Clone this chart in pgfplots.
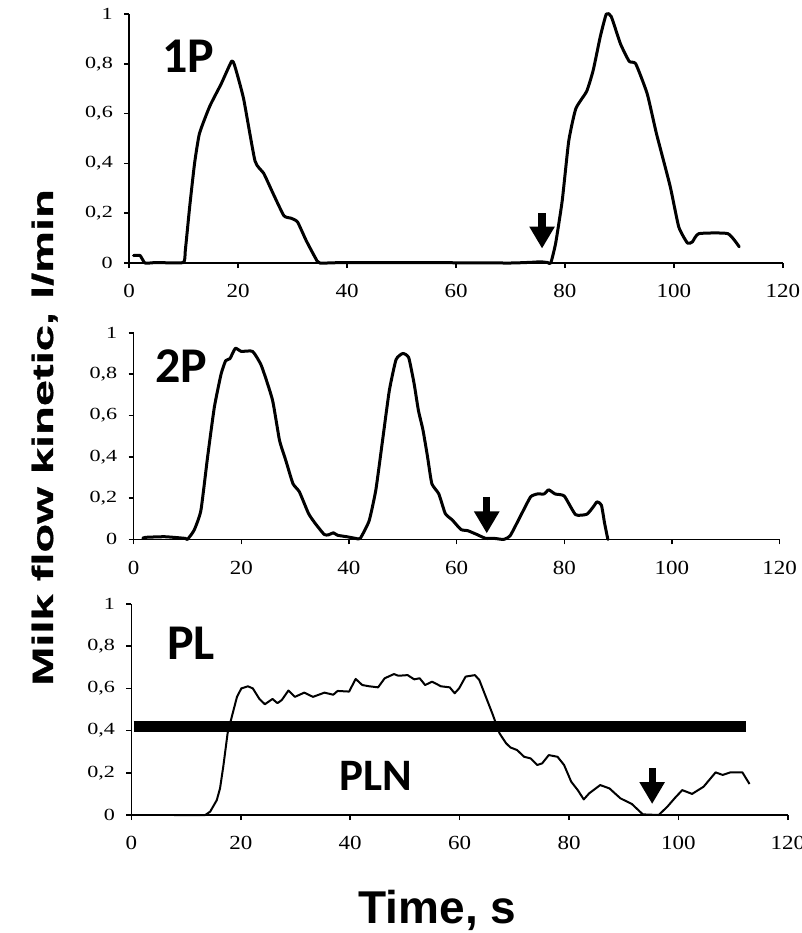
\documentclass[border=0pt]{standalone}
\usepackage{fontspec}
\usepackage{pgfplots}
\pgfplotsset{compat=1.18}
\usetikzlibrary{arrows.meta}
\setmainfont{Liberation Serif}
\newfontfamily\ytickfont[FakeStretch=1.3]{Liberation Serif}
\newfontfamily\xtickfont[FakeStretch=1.15]{Liberation Serif}
\newfontfamily\tagfont{Carlito}
\newfontfamily\ylabfont[FakeStretch=1.6, BoldFeatures={FakeBold=1}]{Liberation Sans}
\newfontfamily\xlabfont{Liberation Sans}

\pgfplotsset{
  panel/.style={
    scale only axis, anchor=south west,
    xmin=0, xmax=120, ymin=0, ymax=1,
    axis x line=bottom, axis y line=left,
    axis line style={-, line width=0.75pt, black},
    tick align=outside, major tick length=2.5pt,
    tick style={line width=0.75pt, black},
    xtick={0,20,40,60,80,100,120},
    xticklabels={0,20,40,60,80,100,120},
    ytick={0,0.2,0.4,0.6,0.8,1},
    yticklabels={0,{0,2},{0,4},{0,6},{0,8},1},
    xticklabel style={font=\xtickfont\fontsize{10}{10}\selectfont, inner sep=0pt, anchor=north},
    yticklabel style={font=\ytickfont\fontsize{8.5}{9}\selectfont, inner sep=0pt, anchor=east},
    xticklabel shift=8pt, yticklabel shift=5.5pt,
    clip=false,
  },
  curve/.style={black, line width=1.5pt, line join=round, line cap=round},
}
\newcommand{\arr}[3]{\draw[line width=3.6pt, -{Triangle[width=12pt,length=11pt]}] (axis cs:#1,#2) -- (axis cs:#1,#3);}

\begin{document}
\begin{tikzpicture}
\useasboundingbox (0,0) rectangle (401pt,-466.5pt);

% Panel 1P
\begin{axis}[panel, at={(64.6pt,-131.5pt)}, width=326.8pt, height=124.5pt]
\addplot[curve, smooth, tension=0.3] coordinates {
(0.8,0.03) (2.0,0.03) (2.9,0) (5,0.002) (9.9,0.002) (10.3,0.05) (11.1,0.225) (12.0,0.4)
(12.9,0.52) (14.8,0.63) (16.9,0.72) (18.8,0.81) (19.4,0.79) (21,0.66) (23.1,0.41)
(24.7,0.36) (26.4,0.28) (28.4,0.19) (29.7,0.18) (30.9,0.165) (32.5,0.09) (34.2,0.02)
(35,0) (40,0.002) (60,0.001) (70,0) (74,0.003) (75.5,0.005) (76.8,0.002) (77.4,0)
(78.3,0.08) (79.5,0.25) (80.7,0.49) (82,0.62) (84,0.69) (85.2,0.775) (86.5,0.91)
(87.6,1.0) (88.5,0.99) (90.2,0.88) (91.8,0.81) (93,0.80) (95.1,0.68) (96.8,0.52)
(99.3,0.31) (100.9,0.145) (102.5,0.08) (103.4,0.085) (104.6,0.118) (109.9,0.118) (112,0.065)
};
\arr{75.8}{0.2}{0.058}
\node[font=\tagfont\bfseries\fontsize{25}{25}\selectfont] at (axis cs:10.8,0.83) {1P};
\end{axis}

% Panel 2P
\begin{axis}[panel, at={(66.8pt,-269.7pt)}, width=323pt, height=103.3pt]
\addplot[curve, smooth, tension=0.3] coordinates {
(1.7,0.005) (2.2,0.01) (5.8,0.013) (9.6,0.005) (10,0) (11.25,0.045) (12.5,0.14)
(13.75,0.4) (15,0.64) (16.25,0.80) (17.1,0.865) (17.9,0.875) (18.9,0.925) (20,0.91)
(22.1,0.91) (23.75,0.84) (25.8,0.675) (27.1,0.48) (28.3,0.38) (29.6,0.27) (30.8,0.23)
(32.5,0.125) (33.75,0.077) (35.4,0.024) (36.2,0.022) (37.1,0.032) (37.9,0.02)
(39.6,0.013) (41.25,0.005) (42.1,0.005) (43.75,0.09) (45,0.24) (46.25,0.48)
(47.5,0.72) (48.75,0.87) (50,0.90) (51.1,0.88) (52.1,0.755) (52.9,0.625) (53.75,0.53)
(54.6,0.40) (55.4,0.27) (56.7,0.22) (57.9,0.125) (59.2,0.094) (60.8,0.048) (62.1,0.042)
(63.75,0.024) (65.4,0.005) (67,0.005) (68.75,0) (70,0.02) (72.1,0.125) (73.75,0.206)
(75,0.22) (76.25,0.22) (77.1,0.24) (78.3,0.22) (80,0.21) (82.1,0.12) (84.2,0.122)
(85.4,0.158) (86.1,0.182) (86.9,0.166) (87.5,0.077) (88.1,0)
};
\arr{65.6}{0.206}{0.029}
\node[font=\tagfont\bfseries\fontsize{25}{25}\selectfont] at (axis cs:8.85,0.84) {2P};
\end{axis}

% Panel PL
\begin{axis}[panel, at={(65.7pt,-407.5pt)}, width=328.2pt, height=105.5pt]
\addplot[black, line width=5.5pt] coordinates {(0.4,0.42) (112.4,0.42)};
\addplot[black, line width=1pt, line join=round] coordinates {
(7.8,0) (13.5,0) (14.4,0.016) (15.6,0.07) (16.2,0.126) (16.8,0.23) (17.6,0.39)
(18.5,0.48) (19.3,0.56) (20.1,0.60) (21.3,0.61) (22.2,0.60) (23.4,0.55) (24.4,0.525)
(25.8,0.55) (26.7,0.53) (27.5,0.545) (28.7,0.59) (29.9,0.56) (31.6,0.58) (33.2,0.56)
(35.3,0.58) (36.9,0.57) (37.7,0.588) (39.8,0.585) (41,0.645) (42.2,0.616) (43.5,0.61)
(45.1,0.605) (46.3,0.648) (48,0.668) (48.8,0.66) (50.5,0.663) (51.7,0.643) (52.7,0.648)
(53.7,0.616) (54.96,0.632) (56.6,0.61) (58.2,0.605) (59.1,0.577) (59.9,0.6) (61.1,0.656)
(62.8,0.663) (63.6,0.64) (64.8,0.56) (66,0.48) (67.3,0.387) (68.5,0.34) (69.3,0.32)
(70.5,0.308) (71.8,0.276) (73,0.268) (74.2,0.237) (75.1,0.245) (76.3,0.284) (77.9,0.276)
(79.1,0.237) (80.4,0.158) (81.6,0.118) (82.7,0.074) (83.7,0.103) (85.7,0.142) (87.4,0.126)
(89.4,0.079) (91.5,0.052) (93.5,0.003) (96.4,0) (98,0.04) (99.3,0.079) (100.7,0.118)
(102.5,0.1) (104.6,0.134) (106.8,0.202) (108.1,0.19) (109.5,0.202) (111.7,0.202) (113,0.147)
};
\arr{95.2}{0.221}{0.052}
\node[font=\tagfont\bfseries\fontsize{25}{25}\selectfont] at (axis cs:10.9,0.815) {PL};
\node[font=\tagfont\bfseries\fontsize{22.5}{22.5}\selectfont] at (axis cs:44.7,0.185) {PLN};
\end{axis}

\node[font=\ylabfont\bfseries\fontsize{14.7}{15}\selectfont, rotate=90, anchor=base, inner sep=0pt]
  at (26.5pt,-218.75pt) {Milk flow kinetic, l/min};
\node[font=\xlabfont\bfseries\fontsize{23}{23}\selectfont, anchor=base, inner sep=0pt]
  at (218.75pt,-461.5pt) {Time, s};
\end{tikzpicture}
\end{document}
